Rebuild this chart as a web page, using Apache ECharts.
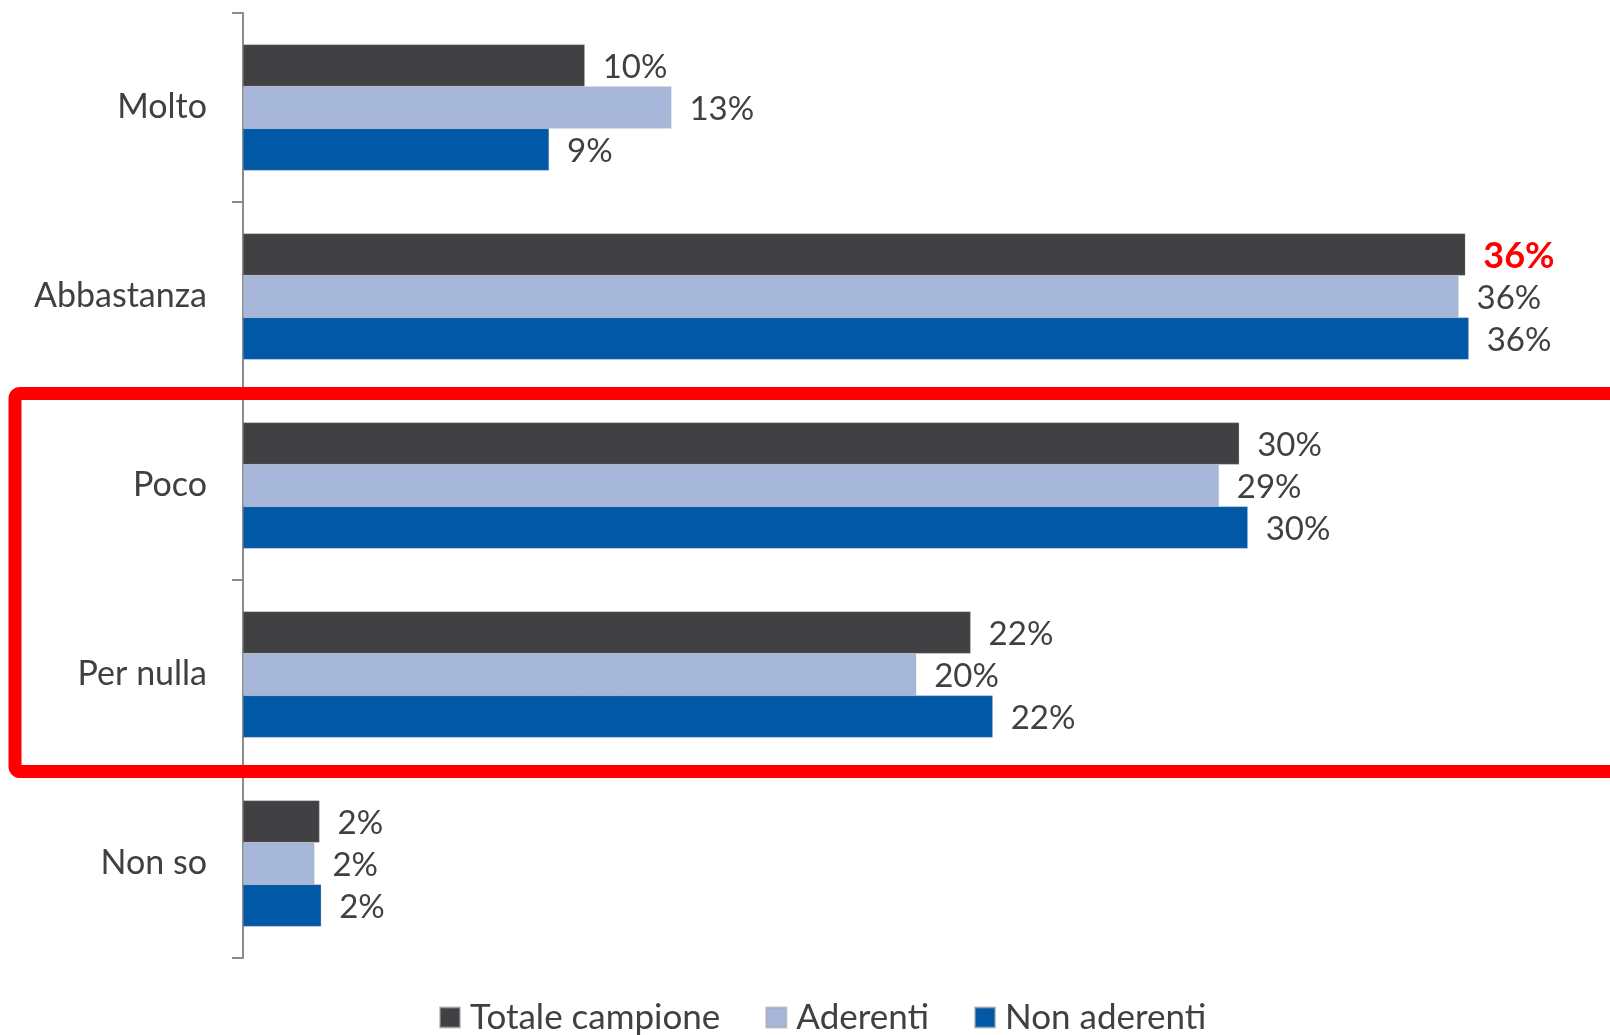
<!DOCTYPE html>
<html>
<head>
<meta charset="utf-8">
<style>
html,body{margin:0;padding:0;background:#fff;}
#chart{width:1610px;height:1035px;}
</style>
<script src="https://cdn.jsdelivr.net/npm/echarts@6/dist/echarts.min.js"></script>
</head>
<body>
<div id="chart"></div>
<script>
const categories = ["Molto", "Abbastanza", "Poco", "Per nulla", "Non so"];
const seriesNames = ["Totale campione", "Aderenti", "Non aderenti"];
const totale = [10.05, 35.95, 29.3, 21.4, 2.25];
const aderenti = [12.6, 35.75, 28.7, 19.8, 2.1];
const nonAderenti = [9.0, 36.05, 29.55, 22.05, 2.3];
const totaleLabels = ["10%", "36%", "30%", "22%", "2%"];
const aderentiLabels = ["13%", "36%", "29%", "20%", "2%"];
const nonAderentiLabels = ["9%", "36%", "30%", "22%", "2%"];
const colors = ["#414143", "#A7B7DA", "#0058A6"];
const highlight = { series: 0, index: 1 };

const FONT = "Lato";
const TXT = "#404040";

const values = [totale, aderenti, nonAderenti];
const labels = [totaleLabels, aderentiLabels, nonAderentiLabels];

const chart = echarts.init(document.getElementById('chart'), null, { renderer: 'canvas' });

const series = seriesNames.map((name, s) => ({
  name: name,
  type: 'bar',
  barWidth: 42,
  barGap: '0%',
  itemStyle: { color: colors[s], borderColor: 'rgba(160,160,170,0.6)', borderWidth: 0.5 },
  label: {
    show: true,
    position: 'right',
    distance: 18,
    offset: [0, 2],
    color: TXT,
    fontFamily: FONT,
    fontSize: 33,
    formatter: (p) => labels[s][p.dataIndex]
  },
  data: values[s].map((v, i) => {
    if (s === highlight.series && i === highlight.index) {
      return { value: v, label: { color: '#FF0000', fontWeight: 'bold', fontSize: 36 } };
    }
    return v;
  })
}));

chart.setOption({
  animation: false,
  backgroundColor: '#fff',
  color: colors,
  textStyle: { fontFamily: FONT },
  grid: { left: 243, right: 7, top: 13, bottom: 77, containLabel: false },
  xAxis: {
    type: 'value', min: 0, max: 40,
    show: false
  },
  yAxis: {
    type: 'category',
    data: categories,
    inverse: true,
    axisLine: { show: true, lineStyle: { color: '#8C8C8C', width: 2 } },
    axisTick: { show: true, length: 11, lineStyle: { color: '#8C8C8C', width: 2 } },
    axisLabel: { color: TXT, fontFamily: FONT, fontSize: 34, margin: 36 },
    splitLine: { show: false }
  },
  legend: {
    data: seriesNames,
    left: 434,
    top: 995,
    icon: 'rect',
    itemWidth: 20,
    itemHeight: 20,
    itemGap: 45,
    textStyle: { color: TXT, fontFamily: FONT, fontSize: 35, padding: [0, 0, 0, 5] }
  },
  graphic: [{
    type: 'rect',
    z: 100,
    shape: { x: 15, y: 393.5, width: 1700, height: 378, r: 5 },
    style: { fill: null, stroke: '#FF0000', lineWidth: 13 }
  }],
  series: series
});
</script>
</body>
</html>
